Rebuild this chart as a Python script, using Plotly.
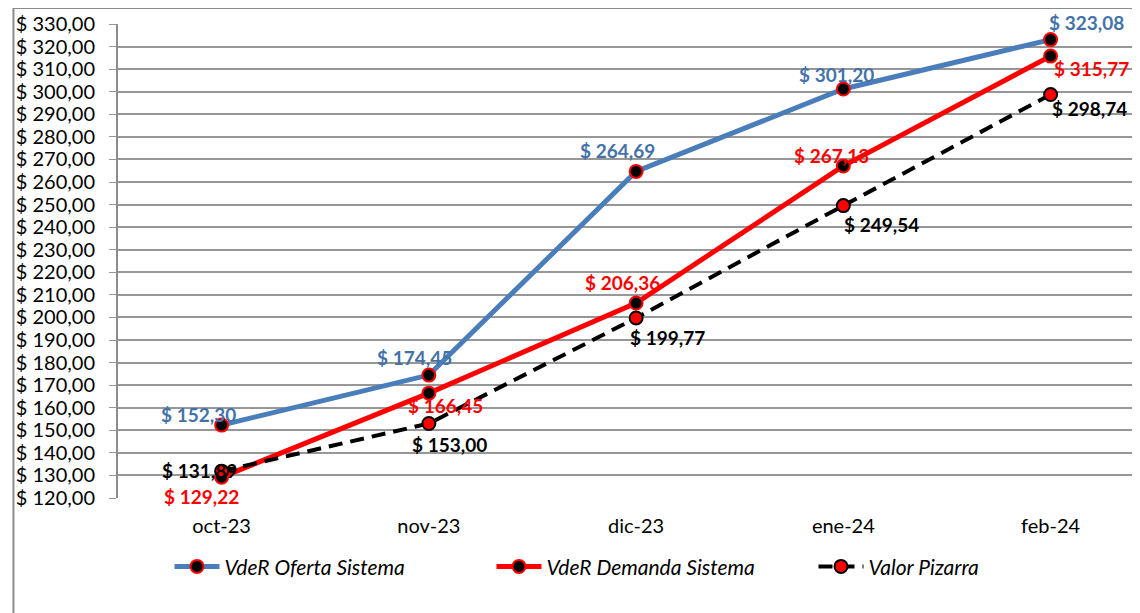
import plotly.graph_objects as go

months = ["oct-23", "nov-23", "dic-23", "ene-24", "feb-24"]
oferta = [152.30, 174.45, 264.69, 301.20, 323.08]
demanda = [129.22, 166.45, 206.36, 267.13, 315.77]
pizarra = [131.89, 153.00, 199.77, 249.54, 298.74]

BLUE = "#4A7EBB"
BLUE_TXT = "#4472A8"
RED = "#FF0000"
BLACK = "#000000"
FONT = "Lato"

# label offsets in px (xshift, yshift) for each point
off_oferta = [(-23, 11), (-14, 18), (-19, 21), (-7, 15), (36, 17)]
off_demanda = [(-20, -19), (17, -12), (-14, 21), (-12, 10), (41, -12)]
off_pizarra = [(-22, 1), (21, -21), (31, -20), (38, -19), (39, -14)]


def fmt(v):
    return "$ " + f"{v:.2f}".replace(".", ",")


fig = go.Figure()
fig.add_trace(go.Scatter(
    x=months, y=oferta, name="VdeR Oferta Sistema", mode="lines+markers",
    line=dict(color=BLUE, width=5),
    marker=dict(size=13, color=BLACK, line=dict(color=RED, width=2)),
))
fig.add_trace(go.Scatter(
    x=months, y=demanda, name="VdeR Demanda Sistema", mode="lines+markers",
    line=dict(color=RED, width=5),
    marker=dict(size=13, color=BLACK, line=dict(color=RED, width=2)),
))
fig.add_trace(go.Scatter(
    x=months, y=pizarra, name="Valor Pizarra", mode="lines+markers",
    line=dict(color=BLACK, width=4, dash="14px,8px"),
    marker=dict(size=13, color=RED, line=dict(color=BLACK, width=2)),
))

for vals, offs, col in [(oferta, off_oferta, BLUE_TXT), (demanda, off_demanda, RED),
                        (pizarra, off_pizarra, BLACK)]:
    for m, v, (dx, dy) in zip(months, vals, offs):
        fig.add_annotation(
            x=m, y=v, text="<b>" + fmt(v) + "</b>", showarrow=False,
            xshift=dx, yshift=dy, font=dict(family=FONT, size=19, color=col),
        )

# outer chart frame
fig.add_shape(type="rect", xref="paper", yref="paper",
              x0=-0.1015, x1=1.1, y0=-0.5, y1=1.0338,
              line=dict(color="#8C8C8C", width=2), layer="below")

fig.update_layout(
    width=1140, height=613,
    margin=dict(l=110, r=0, t=16, b=123),
    paper_bgcolor="white", plot_bgcolor="white",
    separators=",.",
    font=dict(family=FONT, color="black"),
    showlegend=True,
    legend=dict(orientation="h", x=0.05, xanchor="left", y=-0.145, yanchor="middle",
                font=dict(family=FONT, size=21, style="italic"), itemwidth=45,
                entrywidth=262, traceorder="normal"),
)
fig.update_xaxes(
    range=[-0.5, 4.47], showgrid=False, showline=False, ticks="",
    tickfont=dict(size=20), ticklabelstandoff=14,
)
fig.update_yaxes(
    range=[120, 330], dtick=10, tick0=120, tickformat=".2f", tickprefix="$ ",
    showgrid=True, gridcolor="#979797", gridwidth=1.5,
    showline=True, linecolor="#8C8C8C", linewidth=2,
    ticks="outside", ticklen=7, tickcolor="#979797",
    tickfont=dict(size=20), ticklabelstandoff=10, zeroline=False,
)

fig.write_html("out.html")
